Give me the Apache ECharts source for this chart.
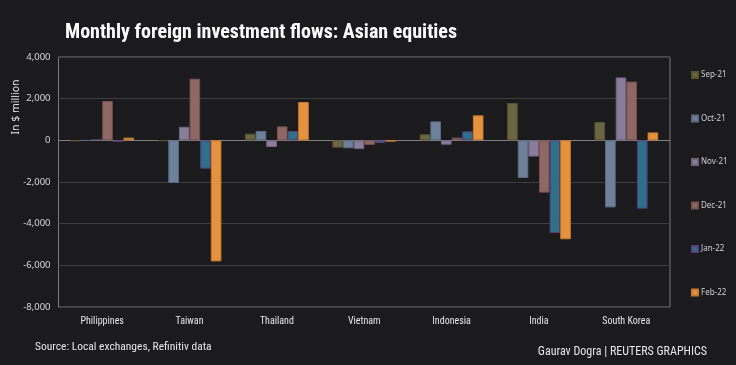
<!DOCTYPE html>
<html><head><meta charset="utf-8">
<script src="https://cdn.jsdelivr.net/npm/echarts@6/dist/echarts.min.js"></script>
<style>html,body{margin:0;padding:0;background:#1b1b1d;}#c{width:736px;height:365px;}</style>
</head><body><div id="c"></div>
<script>
var categories = ['Philippines','Taiwan','Thailand','Vietnam','Indonesia','India','South Korea'];
var months = ['Sep-21','Oct-21','Nov-21','Dec-21','Jan-22','Feb-22'];
var sep21 = [-40, -30, 320, -350, 290, 1790, 880];
var oct21 = [-10, -2050, 450, -380, 910, -1810, -3220];
var nov21 = [10, 650, -320, -420, -210, -780, 3020];
var dec21 = [1890, 2960, 670, -220, 130, -2510, 2820];
var jan22 = [-70, -1360, 450, -130, 430, -4450, -3280];
var feb22 = [130, -5810, 1840, -60, 1200, -4750, 380];
var yTicks = [-8000, 4000, 2000];
var colors = ['#6b6642','#6e819b','#8a7d9a','#8f6866','#2e6f8c','#e5923f'];
var borders = ['#55522f','#5a6b82','#6e6480','#74524f','#5a3d7a','#c87a30'];
var seriesData = [sep21, oct21, nov21, dec21, jan22, feb22];
var font = '"Liberation Sans Narrow","Roboto Condensed","DejaVu Sans Condensed",sans-serif';
var chart = echarts.init(document.getElementById('c'));
chart.setOption({
  backgroundColor: '#1b1b1d',
  animation: false,
  title: {
    text: 'Monthly foreign investment flows: Asian equities',
    left: 60, top: 18,
    textStyle: {color: '#ffffff', fontSize: 20, fontWeight: 'bold', fontFamily: font}
  },
  legend: {
    orient: 'vertical', left: 686, top: 66, itemGap: 35.5,
    itemWidth: 6, itemHeight: 6, icon: 'rect',
    textStyle: {color: '#d0d0d0', fontSize: 8, fontFamily: 'Noto Sans, sans-serif', padding: [0,0,0,-2]},
    data: months
  },
  grid: {left: 58.5, right: 66, top: 57, bottom: 58, show: true, borderColor: '#7a7a7a', borderWidth: 1, backgroundColor: 'transparent'},
  xAxis: {
    type: 'category', data: categories,
    axisLine: {show: false},
    axisTick: {show: false},
    axisLabel: {color: '#e6e6e6', fontSize: 10, fontFamily: font, margin: 9}
  },
  yAxis: {
    type: 'value', min: yTicks[0], max: yTicks[1], interval: yTicks[2],
    axisLine: {show: false}, axisTick: {show: false},
    axisLabel: {color: '#d8d8d8', fontSize: 9.5, fontFamily: 'Noto Sans, sans-serif', margin: 8,
      formatter: function(v){ return v === 0 ? '0' : echarts.format.addCommas(v); }},
    splitLine: {lineStyle: {color: '#3d3d3f', width: 1}}
  },
  graphic: [
    {type: 'text', x: 16, y: 107, rotation: Math.PI/2, style: {text: 'In $ million', fill: '#e0e0e0', fontSize: 10.5, fontFamily: 'Noto Sans, sans-serif', align: 'center', verticalAlign: 'middle'}},
    {type: 'line', shape: {x1: 58.5, y1: 140.5, x2: 670, y2: 140.5}, style: {stroke: '#808080', lineWidth: 1}, z: 1},
    {type: 'text', x: 35, y: 341, style: {text: 'Source: Local exchanges, Refinitiv data', fill: '#e6e6e6', fontSize: 11.5, fontFamily: font}},
    {type: 'text', x: 707, y: 346, style: {text: 'Gaurav Dogra | REUTERS GRAPHICS', fill: '#e6e6e6', fontSize: 12, fontFamily: font, align: 'right'}}
  ],
  series: months.map(function(m, i){
    return {
      name: m, type: 'bar', data: seriesData[i],
      barGap: '0%', barCategoryGap: '27%', z: 3,
      itemStyle: {color: colors[i], borderColor: borders[i], borderWidth: 1}
    };
  })
});
</script></body></html>
